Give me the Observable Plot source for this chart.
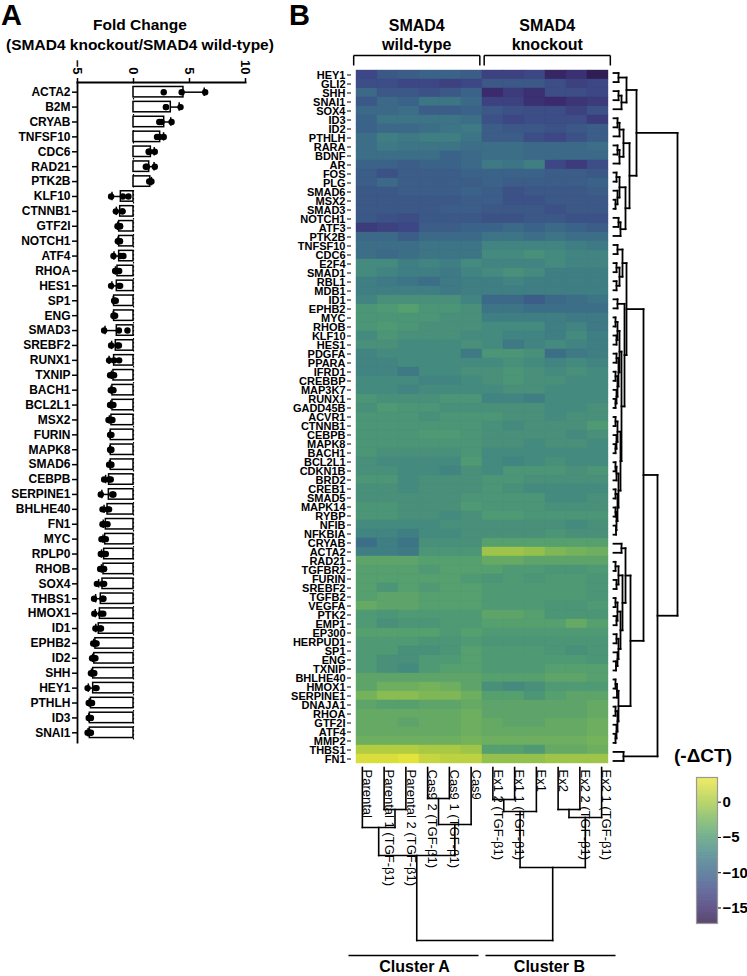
<!DOCTYPE html>
<html><head><meta charset="utf-8">
<script src="https://cdn.jsdelivr.net/npm/d3@7"></script>
<script src="https://cdn.jsdelivr.net/npm/@observablehq/plot@0.6"></script>
<style>
body{margin:0;background:#fff;font-family:Arial,"Liberation Sans",sans-serif;}
#fig{position:relative;width:747px;height:976px;overflow:hidden;background:#fff;}
#fig > svg, #fig > figure{position:absolute;margin:0;}
</style></head><body><div id="fig"></div>
<script>
// ---------------- Panel A data ----------------
const genesA = ["ACTA2","B2M","CRYAB","TNFSF10","CDC6","RAD21","PTK2B","KLF10","CTNNB1","GTF2I","NOTCH1","ATF4","RHOA","HES1","SP1","ENG","SMAD3","SREBF2","RUNX1","TXNIP","BACH1","BCL2L1","MSX2","FURIN","MAPK8","SMAD6","CEBPB","SERPINE1","BHLHE40","FN1","MYC","RPLP0","RHOB","SOX4","THBS1","HMOX1","ID1","EPHB2","ID2","SHH","HEY1","PTHLH","ID3","SNAI1"];
const meanA = [4.46,3.33,2.74,2.38,1.55,1.4,1.5,-1.13,-1.19,-1.28,-1.28,-1.28,-1.43,-1.49,-1.73,-1.73,-1.49,-1.58,-1.73,-1.79,-1.88,-1.88,-1.97,-2.03,-2.03,-2.03,-2.18,-2.2,-2.32,-2.47,-2.53,-2.62,-2.68,-2.77,-2.92,-3.0,-3.1,-3.4,-3.5,-3.6,-3.6,-3.8,-3.9,-3.9];
const repsA = [
[2.7,4.3,6.4],[2.9,4.2,2.9],[2.3,3.4,2.5],[2.1,2.7,2.3],[1.9,1.4,1.35],[1.1,1.9,1.2],[1.4,1.5,1.6],
[-2.0,-0.45,-0.95],[-1.58,-0.98,-1.0],[-1.43,-1.2,-1.2],[-1.4,-1.2,-1.25],[-1.79,-1.13,-0.9],[-1.64,-1.43,-1.28],[-2.0,-1.19,-1.3],[-1.73,-1.67,-1.58],[-1.79,-1.73,-1.64],[-2.62,-0.54,-1.3],[-2.0,-1.43,-1.3],[-2.18,-1.28,-1.73],[-2.09,-1.73,-1.88],
[-2.03,-1.88,-1.79],[-2.09,-1.88,-1.79],[-2.23,-1.97,-1.88],[-2.09,-2.03,-1.97],[-2.09,-2.03,-1.97],[-2.18,-2.03,-1.97],[-2.62,-2.03,-2.18],[-2.92,-1.79,-1.9],[-2.77,-2.32,-2.18],[-2.77,-2.62,-2.32],[-2.86,-2.68,-2.47],[-2.92,-2.62,-2.47],[-2.98,-2.77,-2.62],[-3.27,-2.77,-2.62],[-3.52,-2.77,-2.68],
[-3.5,-2.9,-2.7],[-3.4,-3.0,-2.9],[-3.6,-3.4,-3.3],[-3.7,-3.5,-3.4],[-3.8,-3.6,-3.5],[-4.1,-3.4,-3.3],[-4.0,-3.8,-3.7],[-4.0,-3.9,-3.8],[-4.1,-3.9,-3.8]
];
const ticksA = [-5,0,5,10];

// ---------------- Panel B data ----------------
const samples = ["Parental","Parental 1 (TGF-β1)","Parental 2 (TGF-β1)","Cas9 2 (TGF-β1)","Cas9 1 (TGF-β1)","Cas9","Ex1 2 (TGF-β1)","Ex1 1 (TGF-β1)","Ex1","Ex2","Ex2 2 (TGF-β1)","Ex2 1 (TGF-β1)"];
const genes = ["HEY1","GLI2","SHH","SNAI1","SOX4","ID3","ID2","PTHLH","RARA","BDNF","AR","FOS","PLG","SMAD6","MSX2","SMAD3","NOTCH1","ATF3","PTK2B","TNFSF10","CDC6","E2F4","SMAD1","RBL1","MDB1","ID1","EPHB2","MYC","RHOB","KLF10","HES1","PDGFA","PPARA","IFRD1","CREBBP","MAP3K7","RUNX1","GADD45B","ACVR1","CTNNB1","CEBPB","MAPK8","BACH1","BCL2L1","CDKN1B","BRD2","CREB1","SMAD5","MAPK14","RYBP","NFIB","NFKBIA","CRYAB","ACTA2","RAD21","TGFBR2","FURIN","SREBF2","TGFB2","VEGFA","PTK2","EMP1","EP300","HERPUD1","SP1","ENG","TXNIP","BHLHE40","HMOX1","SERPINE1","DNAJA1","RHOA","GTF2I","ATF4","MMP2","THBS1","FN1"];
const negDeltaCT = [
[-12.5,-11,-10.5,-10,-10,-10.5,-13,-13,-12.5,-15.5,-14.5,-16.5],
[-12,-12,-12.5,-12.5,-13,-12.5,-11,-11,-11,-12,-13,-12.5],
[-9.5,-11,-11,-11.5,-11,-10,-15,-13.5,-14.5,-12,-12,-12.5],
[-11,-9.5,-10,-8.5,-8.5,-9.5,-13,-13,-14.5,-15,-14,-13.5],
[-9.5,-9.5,-9,-10.5,-10.5,-10,-11,-11.5,-12,-12,-13,-11.5],
[-10,-8.5,-8.5,-8.5,-8.5,-9,-11.5,-12.5,-12,-12,-12,-13.5],
[-10,-9.5,-9.5,-9,-8.5,-8,-10.5,-11,-11,-11.5,-11,-10.5],
[-9,-7.5,-8,-7.5,-7.5,-8.5,-10.5,-10.5,-12,-12.5,-11.5,-10.5],
[-9,-8,-8.5,-8.5,-8.5,-9,-9,-9,-9.5,-9.5,-9.5,-9],
[-9,-9,-9,-9,-10,-9.5,-9,-9,-9.5,-9.5,-9.5,-9.5],
[-10,-10,-10.5,-10,-10,-9.5,-8,-8.5,-7.5,-12.5,-13.5,-12],
[-10.5,-11.5,-10.5,-10.5,-10.5,-10,-10,-10,-10,-10.5,-10.5,-11],
[-10.5,-9.5,-10.5,-10.5,-10.5,-10.5,-10,-10.5,-10.5,-10.5,-10.5,-10],
[-11,-11,-10.5,-10.5,-10.5,-10,-10.5,-11.5,-11,-11,-11,-10.5],
[-11,-11,-11,-11,-11,-10.5,-10.5,-11.5,-11.5,-11,-11,-11],
[-11,-11,-11,-11,-10.5,-10.5,-11,-11,-11,-11.5,-11,-11],
[-11,-11.5,-12,-11,-11,-11,-11.5,-11.5,-11,-11,-11.5,-11.5],
[-13.5,-13,-12.5,-10.5,-10.5,-10,-10,-9.5,-10,-9.5,-10,-10.5],
[-9.5,-9.5,-10.5,-9.5,-9.5,-9.5,-8.5,-8.5,-9,-8.5,-9,-9],
[-9,-9,-9,-8.5,-8.5,-8.5,-7,-7,-7,-7,-7.5,-8],
[-9,-9.5,-9,-8.5,-8.5,-8.5,-6.5,-6.5,-6,-6.5,-7,-7],
[-6.5,-6.5,-7.5,-7,-7.5,-6.5,-7,-7,-7,-6.5,-7,-7],
[-6.5,-7,-7.5,-7.5,-8,-7,-6.5,-6,-6.5,-7.5,-7.5,-7.5],
[-7.5,-8,-8.5,-9,-8,-7.5,-7.5,-7,-7.5,-7.5,-7.5,-7.5],
[-7.5,-7.5,-7.5,-7.5,-8,-7.5,-7.5,-7.5,-7.5,-7.5,-7.5,-7.5],
[-7,-6,-6,-6,-6,-7,-9.5,-9.5,-10.5,-9.5,-9,-8.5],
[-5.5,-5,-4.5,-5.5,-5.5,-6,-8.5,-8.5,-9,-9,-9,-9],
[-5.5,-5.5,-5.5,-5.5,-6,-6,-7.5,-7.5,-7.5,-7.5,-8,-8],
[-5.5,-5,-5.5,-6,-6,-6,-6.5,-6.5,-6.5,-7.5,-7,-8],
[-6.5,-5.5,-6,-6,-6,-6.5,-6.5,-7,-7,-7.5,-6.5,-7.5],
[-6,-6,-6.5,-6.5,-6.5,-6,-6.5,-8,-7,-6.5,-7,-7.5],
[-7,-6.5,-6.5,-6.5,-6.5,-8,-5.5,-5.5,-6,-9,-8,-7.5],
[-7,-7,-6.5,-6.5,-6.5,-6.5,-6.5,-6,-6.5,-7,-6.5,-7],
[-7,-7,-8,-6.5,-6.5,-6,-6,-5.5,-6,-6.5,-6,-6.5],
[-6.5,-6.5,-6.5,-7,-7,-6.5,-6,-5.5,-6,-6,-6.5,-6.5],
[-6.5,-6.5,-7,-6.5,-6.5,-6.5,-6.5,-6,-6,-6.5,-6.5,-6.5],
[-5.5,-6,-6,-6,-5.5,-5.5,-7,-7,-7.5,-6.5,-6.5,-6.5],
[-6,-5,-5.5,-5.5,-6,-6,-6,-6,-6,-6.5,-6.5,-6],
[-5.5,-5.5,-5.5,-6,-5.5,-5.5,-5.5,-6,-6,-6.5,-6,-6],
[-5.5,-5.5,-5.5,-5.5,-5.5,-5.5,-6,-6.5,-6,-6,-6,-5],
[-5.5,-5.5,-5.5,-5,-5,-5.5,-6,-6,-6,-6,-6.5,-6],
[-5.5,-5.5,-5.5,-5.5,-5.5,-5.5,-6,-6,-6.5,-6,-6,-6.5],
[-5.5,-6,-6,-6,-6,-5.5,-6.5,-6.5,-6.5,-6.5,-6.5,-6.5],
[-6,-6.5,-6.5,-6.5,-6.5,-5,-6.5,-7,-6.5,-6,-6.5,-6.5],
[-6,-6,-6.5,-6.5,-7,-6,-6.5,-5.5,-5.5,-5.5,-6,-5.5],
[-5.5,-5.5,-6.5,-6,-6,-6,-5.5,-5.5,-6,-6,-6,-6],
[-6,-6,-6.5,-6,-6,-6,-5.5,-6,-6.5,-6.5,-6.5,-6.5],
[-6,-6,-6,-6,-6,-5.5,-5.5,-5.5,-5.5,-6.5,-6.5,-6],
[-5.5,-5.5,-6,-6,-6,-5,-5.5,-5.5,-5.5,-6,-6,-6],
[-5.5,-5.5,-6,-6,-6.5,-6,-5,-5,-5.5,-5.5,-5.5,-5.5],
[-6.5,-6.5,-6.5,-6.5,-6,-6,-6,-6,-6,-6,-6.5,-6],
[-7,-7,-7.5,-6.5,-6.5,-6,-6,-6,-6,-5.5,-6,-6],
[-9,-7.5,-8.5,-6,-6,-6,-4.5,-4.5,-4.5,-4.5,-4.5,-4.5],
[-7.5,-7.5,-8,-5.5,-5.5,-5.5,-0.5,-0.5,-1,-2,-2.5,-3],
[-4,-4,-4,-4.5,-4.5,-4.5,-3.5,-3.5,-4,-4,-4,-4],
[-4.5,-4.5,-4.5,-5,-4.5,-4.5,-4.5,-5,-5,-5.5,-5.5,-5],
[-4.5,-4.5,-4.5,-4.5,-4.5,-5,-5.5,-5,-5.5,-5,-5,-5.5],
[-4.5,-5.5,-4.5,-5,-4.5,-4.5,-5,-5,-5,-5,-5,-5.5],
[-4.5,-4,-4,-4.5,-4.5,-4.5,-5,-5,-5,-5,-5,-5.5],
[-3.5,-4,-4,-4.5,-4.5,-4.5,-5,-5,-5,-5.5,-5.5,-5],
[-5,-5.5,-5,-5,-5,-5,-4,-4,-4.5,-5.5,-5.5,-5.5],
[-5,-6,-5.5,-5.5,-5,-5,-4.5,-4.5,-4.5,-4.5,-3.5,-4.5],
[-4.5,-4.5,-4.5,-4.5,-5,-4.5,-5,-5,-5,-5,-5,-5],
[-5,-5,-5,-5.5,-5.5,-5,-5.5,-5.5,-5.5,-5.5,-5.5,-5.5],
[-5,-5,-6,-6,-5.5,-4.5,-5,-5,-5,-5.5,-6,-5.5],
[-5,-6,-6,-5,-5,-4.5,-5,-5,-5,-5,-5,-5.5],
[-5,-6,-6.5,-5,-4.5,-4.5,-5,-5,-5,-4.5,-4.5,-4.5],
[-4,-4,-4,-4,-4,-4,-4.5,-4.5,-4.5,-4,-4,-4.5],
[-4,-3,-3,-2.5,-3,-4,-6,-6.5,-6,-5,-5,-5],
[-2.5,-1.5,-1.5,-2,-2,-3,-4.5,-4.5,-5.5,-4.5,-4,-4],
[-4,-4.5,-4.5,-4,-4,-3.5,-4,-4,-4,-4,-4,-3.5],
[-3.5,-3.5,-3.5,-3.5,-3.5,-3,-4,-4,-4,-4,-4,-3.5],
[-3.5,-3.5,-4,-3.5,-3.5,-3,-3.5,-4,-4,-3.5,-3.5,-3],
[-3.5,-3.5,-3.5,-3.5,-3.5,-3,-3.5,-3.5,-3.5,-3.5,-3.5,-3],
[-3,-3,-3,-3,-3,-2.5,-3,-3,-3,-3,-3,-2.5],
[0.5,0.5,0.5,0,0,-0.5,-4.5,-4.5,-5,-3.5,-3.5,-3],
[2.5,2.5,3,1.5,1,1,-1,-1,-1,-0.5,-0.5,-0.5]
];
// dendrograms: node = [height, left, right]; leaf = index
const rowTree = [64,
  [23,
    [13,[5,0,1],[8,[5,2,3],4]],
    [16,[10,[6,[4,5,6],7],[6,[4,8,9],10]],[12,[6,[3,11,12],[4,13,[2,14,15]]],[7,[5,16,17],18]]]
  ],
  [44,
    [30,
      [13,
        [9,[4,19,20],[6,[3,21,22],[3,23,24]]],
        [11,[4,25,26],
          [8,
            [6,[4,[2,27,28],[3,29,30]],[5,[3,31,32],[4,[2,33,34],[3,35,[2,36,37]]]]],
            [7,[4,[2,38,39],[3,40,[2,41,42]]],[5,[3,[2,43,44],45],[4,[2,46,47],[3,[2,48,49],[2.5,50,51]]]]]
          ]
        ]
      ],
      [17,
        [12,[8,52,53],[9,[5,[2,54,55],[3,56,57]],[7,[4,[2,58,59],[3,60,61]],[5,[3,62,63],[4,64,[2.5,65,66]]]]]],
        [5,[3.5,[2,67,68],69],[4,[2,70,71],[3,72,[2,73,74]]]]
      ]
    ],
    [10,75,76]
  ]
];
const colTree = [173,[88,[60,0,[42,1,2]],[57,[31,3,4],5]],[100,[44,[32,6,7],8],[50,[42,9,10],11]]];
const groups = ["SMAD4\nwild-type","SMAD4\nknockout"];
const clusters = ["Cluster A","Cluster B"];
const cbTicks = [0,-5,-10,-15];
const colorStops = [-17.2,-15,-12.5,-10,-7.5,-5,-2.5,0,3.5];
const colorRamp = ["#2b1747","#3b2a6c","#3d4785","#3b6389","#3f7f84","#4f9a74","#74b35b","#a9c944","#ece73a"];

// ---------------- helpers ----------------
const FONT = 'Arial, "Liberation Sans", sans-serif';
const fig = document.getElementById("fig");
function place(el, left, top){ el.style.left = left+"px"; el.style.top = top+"px"; fig.appendChild(el); return el; }
function layoutTree(node, segs){
  if (typeof node === "number") return {pos: node + 0.5, h: 0};
  const [h, a, b] = node;
  const A = layoutTree(a, segs), B = layoutTree(b, segs);
  segs.push({h1: A.h, h2: h, p1: A.pos, p2: A.pos});
  segs.push({h1: B.h, h2: h, p1: B.pos, p2: B.pos});
  segs.push({h1: h, h2: h, p1: A.pos, p2: B.pos});
  return {pos: (A.pos + B.pos) / 2, h};
}
const colorScale = {type: "linear", domain: colorStops, range: colorRamp, interpolate: "rgb"};

// ---------------- Panel A ----------------
const rowsA = genesA.map((g,i)=>({gene:g, mean:meanA[i], sd:d3.deviation(repsA[i])}));
rowsA.forEach(d => d.end = d.mean + Math.sign(d.mean) * d.sd);
const ptsA = genesA.flatMap((g,i)=>repsA[i].map(v=>({gene:g, v})));
const plotA = Plot.plot({
  width: 262, height: 752, marginLeft: 77, marginRight: 17, marginTop: 82, marginBottom: 10,
  style: {fontFamily: FONT, background: "transparent", color: "#000", overflow: "visible"},
  x: {domain: [-5, 10], axis: null},
  y: {domain: genesA, padding: 0.3, axis: null},
  marks: [
    Plot.ruleX([0], {stroke: "#000", strokeWidth: 1.2, strokeDasharray: "1.5,2.5"}),
    Plot.link(rowsA, {y1: "gene", y2: "gene", x1: "mean", x2: "end", stroke: "#000", strokeWidth: 1.5}),
    Plot.tickX(rowsA, {y: "gene", x: "end", stroke: "#000", strokeWidth: 1.5, insetTop: 1, insetBottom: 1}),
    Plot.barX(rowsA, {y: "gene", x1: 0, x2: "mean", fill: "#fff", stroke: "#000", strokeWidth: 1.5}),
    Plot.dot(ptsA, {x: "v", y: "gene", r: 3.2, fill: "#000"}),
    Plot.frame({anchor: "top", stroke: "#000", strokeWidth: 1.8}),
    Plot.frame({anchor: "left", stroke: "#000", strokeWidth: 1.8}),
    Plot.axisX({anchor: "top", label: null, ticks: ticksA, tickSize: 5, tickPadding: 3, tickRotate: 90, fontSize: 13, fontWeight: "bold", strokeWidth: 1.5}),
    Plot.axisY({anchor: "left", label: null, tickSize: 5, tickPadding: 2, fontSize: 12, fontWeight: "bold", strokeWidth: 1.5})
  ]
});
place(plotA, 0, 0);

// ---------------- Panel B heatmap ----------------
const cells = genes.flatMap((g,i)=>samples.map((s,j)=>({gene:g, sample:s, value:negDeltaCT[i][j]})));
const heat = Plot.plot({
  width: 620, height: 770, marginLeft: 351, marginRight: 8, marginTop: 68, marginBottom: 5,
  style: {fontFamily: FONT, background: "transparent", color: "#000", overflow: "visible"},
  x: {domain: samples, padding: 0, axis: null},
  y: {domain: genes, padding: 0, axis: null},
  color: colorScale,
  marks: [
    Plot.cell(cells, {x: "sample", y: "gene", fill: "value", stroke: "value", strokeWidth: 0.4, inset: 0}),
    Plot.axisY({anchor: "left", label: null, tickSize: 4, tickPadding: 2, fontSize: 11, fontWeight: "bold", strokeWidth: 1})
  ]
});
place(heat, 0, 0);

// header brackets
const header = Plot.plot({
  width: 261, height: 68, margin: 0,
  style: {fontFamily: FONT, background: "transparent", color: "#000", overflow: "visible"},
  x: {domain: [0, 12], axis: null},
  y: {domain: [0, 68], range: [0, 68], axis: null},
  marks: [
    Plot.text(groups, {x: (d,i)=>3 + 6*i, y: 49, text: d=>d, lineAnchor: "bottom", lineHeight: 1.15, fontSize: 16, fontWeight: "bold"}),
    Plot.link(groups, {x1: (d,i)=>6*i + 0.1, x2: (d,i)=>6*i + 5.9, y1: 55, y2: 55, stroke: "#000", strokeWidth: 1.5}),
    Plot.link(groups, {x1: (d,i)=>6*i + 0.1, x2: (d,i)=>6*i + 0.1, y1: 55, y2: 65, stroke: "#000", strokeWidth: 1.5}),
    Plot.link(groups, {x1: (d,i)=>6*i + 5.9, x2: (d,i)=>6*i + 5.9, y1: 55, y2: 65, stroke: "#000", strokeWidth: 1.5})
  ]
});
place(header, 351, 0);

// row dendrogram (root at the far right, no stem)
const rowSegs = []; layoutTree(rowTree, rowSegs);
const rowDendro = Plot.plot({
  width: 135, height: 697, marginLeft: 1, marginRight: 70, marginTop: 0, marginBottom: 0,
  style: {background: "transparent", overflow: "visible"},
  x: {domain: [0, 64], axis: null},
  y: {domain: [0, genes.length], range: [0, 697], axis: null},
  marks: [
    Plot.link(rowSegs, {x1: "h1", x2: "h2", y1: "p1", y2: "p2", stroke: "#000", strokeWidth: 1.8, strokeLinecap: "square"})
  ]
});
place(rowDendro, 612, 68);

// column dendrogram + labels + clusters
const colSegs = []; layoutTree(colTree, colSegs);
const colDendro = Plot.plot({
  width: 261, height: 209, margin: 0,
  style: {fontFamily: FONT, background: "transparent", color: "#000", overflow: "visible"},
  x: {domain: [0, samples.length], axis: null},
  y: {domain: [0, 209], range: [0, 209], axis: null},
  marks: [
    Plot.text(samples, {x: (d,i)=>i + 0.5, y: 2, text: d=>d, rotate: 90, textAnchor: "start", dx: 5, fontSize: 13, fill: "#000"}),
    Plot.link(colSegs, {x1: "p1", x2: "p2", y1: "h1", y2: "h2", stroke: "#000", strokeWidth: 1.6, strokeLinecap: "square"}),
    Plot.link(clusters, {x1: (d,i)=>6*i - 0.14 + 0.3*i, x2: (d,i)=>6*i + 5.84 + 0.3*i, y1: 188, y2: 188, stroke: "#000", strokeWidth: 1.6}),
    Plot.text(clusters, {x: (d,i)=>2.9 + 6.2*i, y: 199, text: d=>d, fontSize: 16, fontWeight: "bold"})
  ]
});
place(colDendro, 351, 767);

// colour bar
const steps = d3.range(colorStops[0], colorStops[colorStops.length-1], 0.05);
const cbar = Plot.plot({
  width: 51, height: 146, marginLeft: 0, marginRight: 30, marginTop: 0, marginBottom: 0,
  style: {fontFamily: FONT, background: "transparent", color: "#000", overflow: "visible"},
  x: {domain: [0, 1], axis: null},
  y: {domain: [colorStops[0], colorStops[colorStops.length-1]], axis: null},
  color: colorScale,
  marks: [
    Plot.rect(steps, {x1: 0, x2: 1, y1: d=>d, y2: d=>d + 0.06, fill: d=>d}),
    Plot.frame({stroke: "#999", strokeWidth: 1.2}),
    Plot.axisY({anchor: "right", label: null, ticks: cbTicks, tickSize: 3, tickPadding: 2, fontSize: 15, fontWeight: "bold"})
  ]
});
place(cbar, 696, 777);

// ---------------- annotations ----------------
const ann = d3.create("svg").attr("width", 747).attr("height", 976)
  .style("pointer-events", "none").attr("font-family", FONT).attr("font-weight", "bold");
ann.append("text").attr("x", 1).attr("y", 25).attr("font-size", 29).text("A");
ann.append("text").attr("x", 289).attr("y", 25).attr("font-size", 29).text("B");
ann.append("text").attr("x", 140).attr("y", 30).attr("font-size", 15.5).attr("text-anchor", "middle").text("Fold Change");
ann.append("text").attr("x", 140).attr("y", 50).attr("font-size", 15.5).attr("text-anchor", "middle").text("(SMAD4 knockout/SMAD4 wild-type)");
ann.append("text").attr("x", 703).attr("y", 762).attr("font-size", 19).attr("text-anchor", "middle").text("(-ΔCT)");
place(ann.node(), 0, 0);
</script></body></html>
